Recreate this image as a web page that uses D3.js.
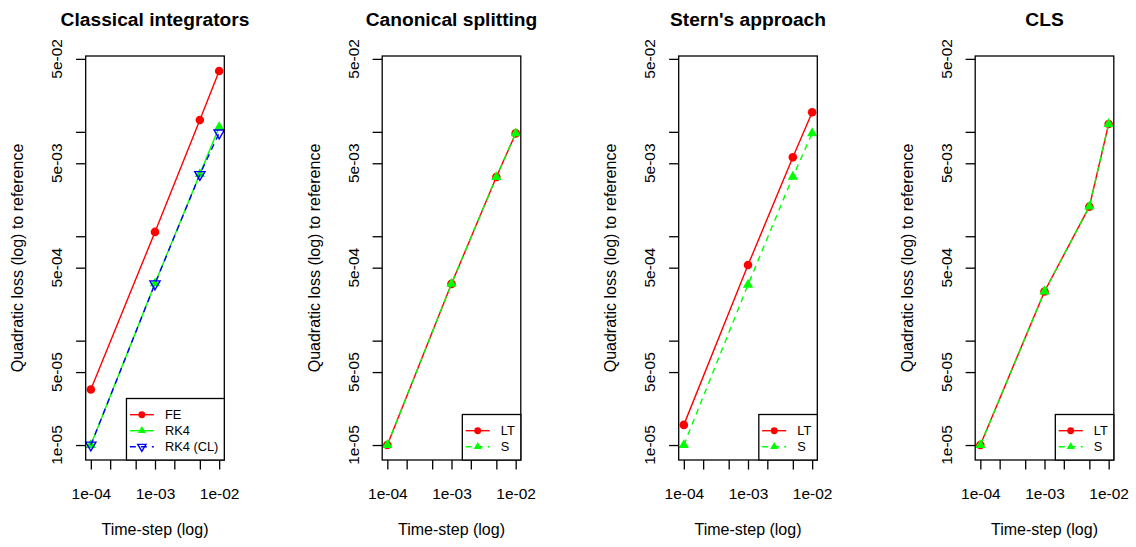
<!DOCTYPE html>
<html>
<head>
<meta charset="utf-8">
<script src="https://cdn.jsdelivr.net/npm/d3@7"></script>
<style>
  html, body { margin: 0; padding: 0; background: #fff; }
  svg { display: block; font-family: "Liberation Sans", Arial, Helvetica, sans-serif; }
</style>
</head>
<body>
<svg id="chart" width="1136" height="547"></svg>
<script>
// ---------------- data ----------------
const panelTitles = ["Classical integrators", "Canonical splitting", "Stern's approach", "CLS"];
const timeSteps = [1e-4, 1e-3, 5e-3, 1e-2];

const feLoss     = [3.4e-5, 1.10e-3, 1.30e-2, 3.83e-2];
const rk4Loss    = [1.0e-5, 3.54e-4, 3.94e-3, 1.11e-2];
const rk4ClLoss  = [1.0e-5, 3.50e-4, 3.90e-3, 9.75e-3];

const canonicalLT = [1.0e-5, 3.50e-4, 3.69e-3, 9.66e-3];
const canonicalS  = [1.0e-5, 3.50e-4, 3.69e-3, 9.66e-3];

const sternLT = [1.56e-5, 5.30e-4, 5.70e-3, 1.54e-2];
const sternS  = [1.0e-5, 3.43e-4, 3.72e-3, 9.70e-3];

const clsLT = [1.0e-5, 2.96e-4, 1.92e-3, 1.19e-2];
const clsS  = [1.0e-5, 2.96e-4, 1.92e-3, 1.19e-2];

const legendClassical = ["FE", "RK4", "RK4 (CL)"];
const legendSplit = ["LT", "S"];

const xTickValues = [1e-4, 2e-4, 5e-4, 1e-3, 2e-3, 5e-3, 1e-2];
const xTickLabels = ["1e-04", "", "", "1e-03", "", "", "1e-02"];
const yTickValues = [1e-5, 5e-5, 1e-4, 5e-4, 1e-3, 5e-3, 1e-2, 5e-2];
const yTickLabels = ["1e-05", "5e-05", "", "5e-04", "", "5e-03", "", "5e-02"];

const xAxisTitle = "Time-step (log)";
const yAxisTitle = "Quadratic loss (log) to reference";

// ---------------- styles ----------------
const RED = "#ff0000", GREEN = "#00ff00", BLUE = "#0000ff";
const styleFE    = { color: RED,   dash: null,  shape: "circle" };
const styleRK4   = { color: GREEN, dash: null,  shape: "triUp" };
const styleRK4CL = { color: BLUE,  dash: "6,5", shape: "triDownOpen" };
const styleLT    = { color: RED,   dash: null,  shape: "circle" };
const styleS     = { color: GREEN, dash: "6,5", shape: "triUp" };

const panels = [
  { title: panelTitles[0], series: [
      { name: legendClassical[0], values: feLoss, style: styleFE },
      { name: legendClassical[1], values: rk4Loss, style: styleRK4 },
      { name: legendClassical[2], values: rk4ClLoss, style: styleRK4CL } ] },
  { title: panelTitles[1], series: [
      { name: legendSplit[0], values: canonicalLT, style: styleLT },
      { name: legendSplit[1], values: canonicalS, style: styleS } ] },
  { title: panelTitles[2], series: [
      { name: legendSplit[0], values: sternLT, style: styleLT },
      { name: legendSplit[1], values: sternS, style: styleS } ] },
  { title: panelTitles[3], series: [
      { name: legendSplit[0], values: clsLT, style: styleLT },
      { name: legendSplit[1], values: clsS, style: styleS } ] }
];

// ---------------- layout ----------------
const panelStep = 296.5, boxLeft = 85.7, boxTop = 56, boxW = 138.6, boxH = 404;
const tickLen = 9.6;

function logExtend(lo, hi) {
  const a = Math.log10(lo), b = Math.log10(hi), e = (b - a) * 0.04;
  return [Math.pow(10, a - e), Math.pow(10, b + e)];
}
const allVals = [feLoss, rk4Loss, rk4ClLoss, canonicalLT, canonicalS, sternLT, sternS, clsLT, clsS].flat();
const yExt = d3.extent(allVals);
const x = d3.scaleLog().domain(logExtend(d3.min(timeSteps), d3.max(timeSteps))).range([0, boxW]);
const y = d3.scaleLog().domain(logExtend(yExt[0], yExt[1])).range([boxH, 0]);

function markerPath(shape, s) {
  // s: scale factor (1 for plot, 0.8 for legend)
  if (shape === "circle") return null;
  const rv = 5.9 * s, hw = rv * Math.sqrt(3) / 2, hb = rv / 2;
  if (shape === "triUp") return `M0,${-rv}L${hw},${hb}L${-hw},${hb}Z`;
  return `M0,${rv}L${hw},${-hb}L${-hw},${-hb}Z`;
}
function drawMarker(g, st, cx, cy, s) {
  if (st.shape === "circle") {
    g.append("circle").attr("cx", cx).attr("cy", cy).attr("r", 4.3 * s).attr("fill", st.color);
  } else if (st.shape === "triUp") {
    g.append("path").attr("transform", `translate(${cx},${cy})`).attr("d", markerPath("triUp", s))
      .attr("fill", st.color);
  } else {
    g.append("path").attr("transform", `translate(${cx},${cy})`).attr("d", markerPath("triDown", s))
      .attr("fill", "none").attr("stroke", st.color).attr("stroke-width", 1.4);
  }
}

const svg = d3.select("#chart");
svg.append("rect").attr("width", 1136).attr("height", 547).attr("fill", "#fff");

panels.forEach((p, k) => {
  const g = svg.append("g").attr("transform", `translate(${boxLeft + panelStep * k},${boxTop})`);

  // title
  g.append("text").attr("x", boxW / 2).attr("y", -30).attr("text-anchor", "middle")
    .attr("font-weight", "bold").attr("font-size", "19.2px").attr("fill", "#000").text(p.title);

  // y axis
  const ya = g.append("g").call(d3.axisLeft(y).tickValues(yTickValues).tickSize(tickLen).tickFormat(""));
  ya.select(".domain").remove();
  ya.selectAll(".tick line").attr("stroke", "#000").attr("stroke-width", 1.3);
  yTickValues.forEach((v, i) => {
    if (!yTickLabels[i]) return;
    g.append("text").attr("transform", `translate(-23.7,${y(v)}) rotate(-90)`)
      .attr("text-anchor", "middle").attr("font-size", "15.5px").attr("fill", "#000").text(yTickLabels[i]);
  });

  // x axis
  const xa = g.append("g").attr("transform", `translate(0,${boxH})`)
    .call(d3.axisBottom(x).tickValues(xTickValues).tickSize(tickLen).tickFormat((d, i) => xTickLabels[i]));
  xa.select(".domain").remove();
  xa.selectAll(".tick line").attr("stroke", "#000").attr("stroke-width", 1.3);
  xa.selectAll(".tick text").attr("y", 39).attr("dy", null).attr("font-size", "15.5px")
    .attr("fill", "#000").attr("font-family", null);

  // axis titles
  g.append("text").attr("x", boxW / 2).attr("y", 479).attr("text-anchor", "middle")
    .attr("font-size", "16px").attr("fill", "#000").text(xAxisTitle);
  g.append("text").attr("transform", `translate(-62.7,${boxH / 2}) rotate(-90)`)
    .attr("text-anchor", "middle").attr("font-size", "16px").attr("fill", "#000").text(yAxisTitle);

  // series
  const plot = g.append("g");
  const line = d3.line().x((d, i) => x(timeSteps[i])).y(d => y(d));
  p.series.forEach(s => {
    plot.append("path").datum(s.values).attr("d", line).attr("fill", "none")
      .attr("stroke", s.style.color).attr("stroke-width", 1.4)
      .attr("stroke-dasharray", s.style.dash);
    s.values.forEach((v, i) => drawMarker(plot, s.style, x(timeSteps[i]), y(v), 1));
  });

  // box
  g.append("rect").attr("width", boxW).attr("height", boxH).attr("fill", "none")
    .attr("stroke", "#000").attr("stroke-width", 1.3);

  // legend (bottom right)
  const n = p.series.length;
  const lg = g.append("g");
  const texts = [];
  const tmp = lg.append("g");
  p.series.forEach(s => {
    texts.push(tmp.append("text").attr("font-size", "12.8px").text(s.name).node().getComputedTextLength());
  });
  tmp.remove();
  const lw = 38.5 + d3.max(texts) + 6;
  const lh = 13.3 + 16 * (n - 1) + 16.2;
  const lx = boxW - lw, ly = boxH - lh;
  lg.append("rect").attr("x", lx).attr("y", ly).attr("width", lw).attr("height", lh)
    .attr("fill", "#fff").attr("stroke", "#000").attr("stroke-width", 1.3);
  p.series.forEach((s, i) => {
    const cy = boxH - 13.3 - 16 * (n - 1 - i);
    lg.append("line").attr("x1", lx + 3.4).attr("x2", lx + 27.4).attr("y1", cy).attr("y2", cy)
      .attr("stroke", s.style.color).attr("stroke-width", 1.4).attr("stroke-dasharray", s.style.dash);
    drawMarker(lg, s.style, lx + 15.4, cy, 0.8);
    lg.append("text").attr("x", lx + 38.5).attr("y", cy + 4.6).attr("font-size", "12.8px")
      .attr("fill", "#000").text(s.name);
  });
});
</script>
</body>
</html>
